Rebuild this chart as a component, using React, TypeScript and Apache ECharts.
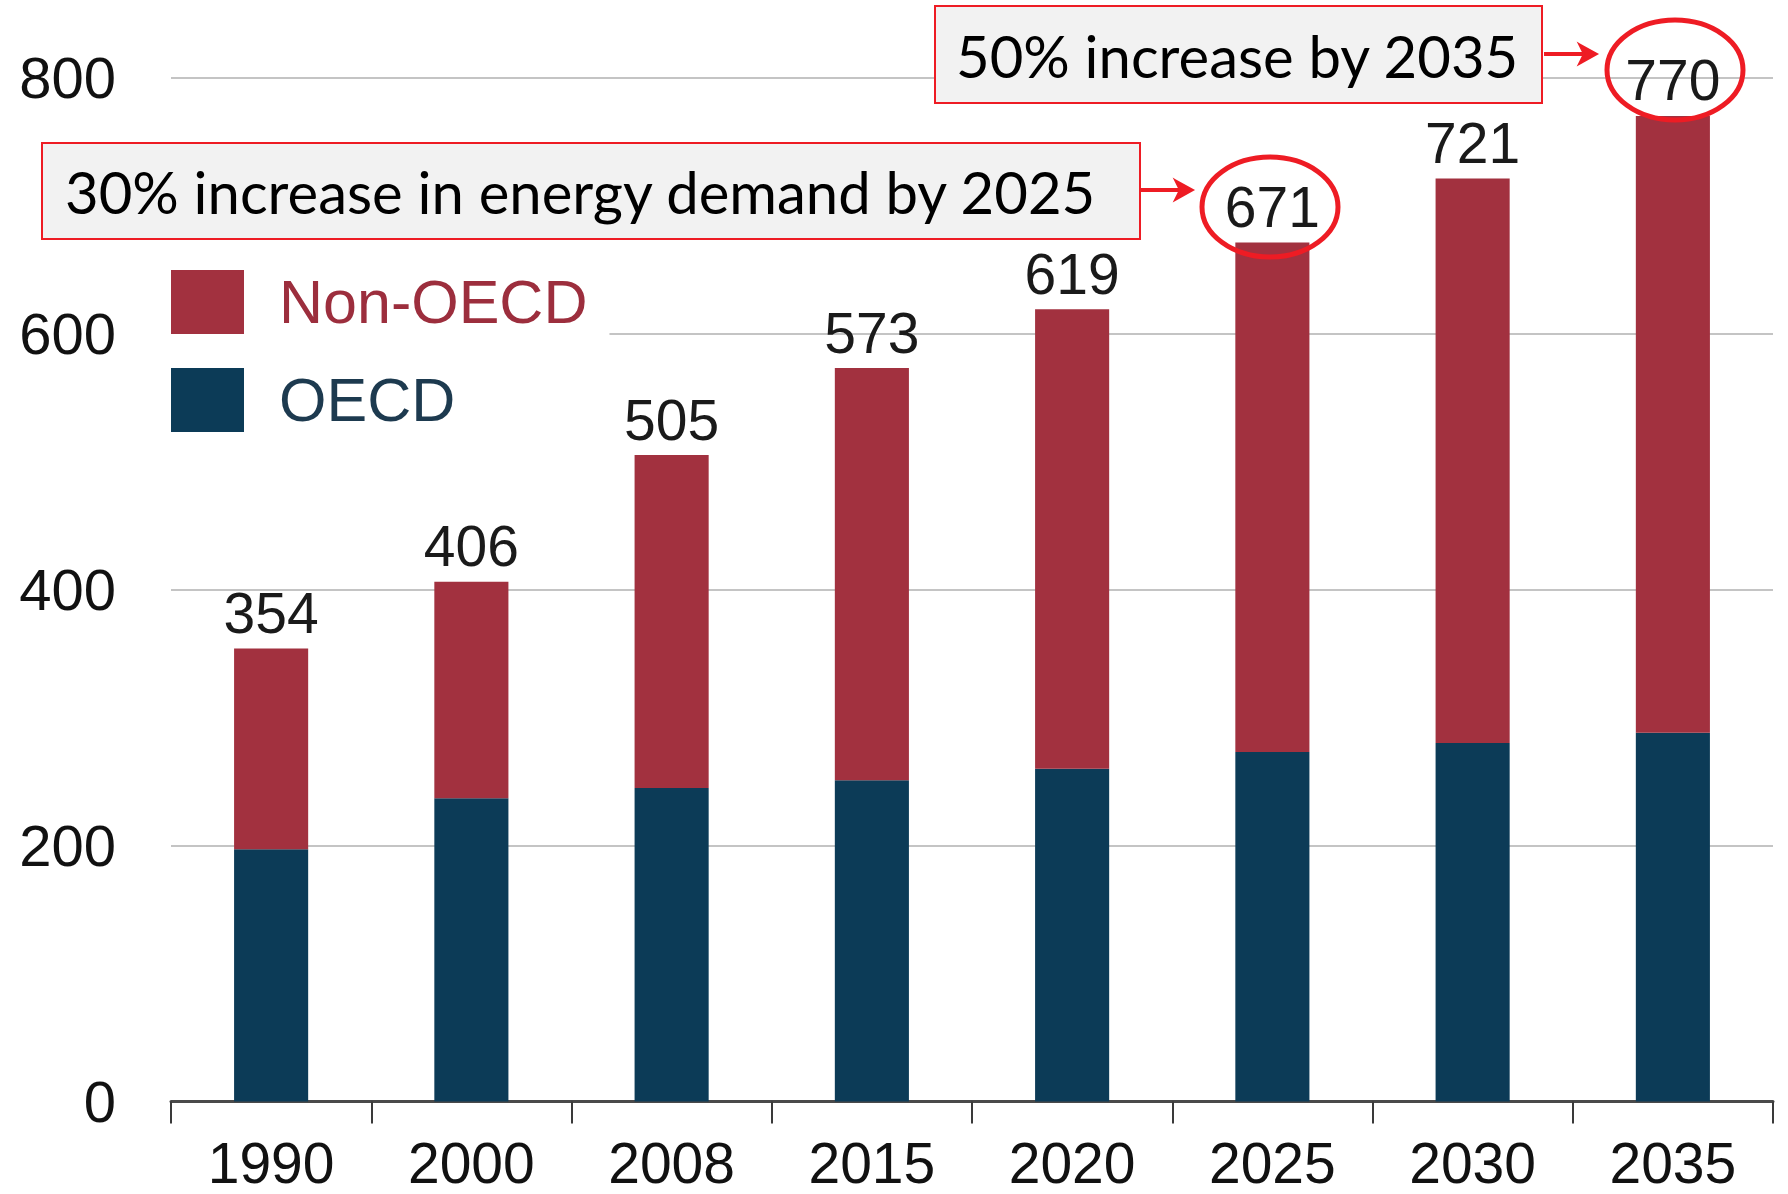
import React, { useEffect, useRef } from "react";
import * as echarts from "echarts";

const years = ["1990", "2000", "2008", "2015", "2020", "2025", "2030", "2035"];
const totals = [354, 406, 505, 573, 619, 671, 721, 770];
const oecd = [197, 237, 245, 251, 260, 273, 280, 288];
const nonOecd = [157, 169, 260, 322, 359, 398, 441, 482];
const yTicks = { min: 0, max: 800, interval: 200 };
const note2025 = "30% increase in energy demand by 2025";
const note2035 = "50% increase by 2035";

const RED = "#a2313f";
const NAVY = "#0c3b57";
const ANN = "#ee1c24";
const SANS = "'Liberation Sans', Arial, sans-serif";
const NOTE_FONT = "Lato, 'Open Sans', sans-serif";

export default function App() {
  const ref = useRef<HTMLDivElement>(null);
  useEffect(() => {
    if (!ref.current) return;
    const chart = echarts.init(ref.current, undefined, { renderer: "svg" });
    chart.setOption({
      animation: false,
      backgroundColor: "#ffffff",
      grid: { left: 171, right: 15, top: 77.5, bottom: 92.5, containLabel: false },
      legend: {
        orient: "vertical",
        left: 161,
        top: 262,
        padding: [8, 22, 10, 10],
        backgroundColor: "#ffffff",
        itemWidth: 73,
        itemHeight: 64,
        itemGap: 34,
        icon: "rect",
        selectedMode: false,
        textStyle: { fontFamily: SANS, fontSize: 61, padding: [0, 0, 0, 30] },
        data: [
          { name: "Non-OECD", textStyle: { color: "#9c2e3d" } },
          { name: "OECD", textStyle: { color: "#1d3a4f" } },
        ],
      },
      xAxis: {
        type: "category",
        data: years,
        axisLine: { lineStyle: { color: "#4a4a4a", width: 3 } },
        axisTick: { show: true, length: 22, lineStyle: { color: "#3a3a3a", width: 2 } },
        axisLabel: { fontFamily: SANS, fontSize: 57, color: "#111", margin: 33 },
      },
      yAxis: {
        type: "value",
        min: yTicks.min,
        max: yTicks.max,
        interval: yTicks.interval,
        axisLine: { show: false },
        axisTick: { show: false },
        axisLabel: { fontFamily: SANS, fontSize: 58, color: "#111", margin: 55 },
        splitLine: { lineStyle: { color: "#c4c4c4", width: 2 } },
      },
      series: [
        {
          name: "OECD",
          type: "bar",
          stack: "total",
          data: oecd,
          barWidth: "37%",
          itemStyle: { color: NAVY },
        },
        {
          name: "Non-OECD",
          type: "bar",
          stack: "total",
          data: nonOecd,
          barWidth: "37%",
          itemStyle: { color: RED },
          label: {
            show: true,
            position: "top",
            distance: 7,
            fontFamily: SANS,
            fontSize: 57,
            color: "#1a1a1a",
            formatter: (p: any) => String(totals[p.dataIndex]),
          },
        },
      ],
      graphic: [
        {
          type: "rect",
          z: 100,
          shape: { x: 42, y: 143, width: 1098, height: 96 },
          style: { fill: "#f2f2f2", stroke: ANN, lineWidth: 2 },
        },
        {
          type: "text",
          z: 101,
          x: 65,
          y: 191,
          style: {
            text: note2025,
            font: `58px ${NOTE_FONT}`,
            fill: "#000",
            verticalAlign: "middle",
            align: "left",
          },
        },
        {
          type: "rect",
          z: 100,
          shape: { x: 935, y: 6, width: 607, height: 97 },
          style: { fill: "#f2f2f2", stroke: ANN, lineWidth: 2 },
        },
        {
          type: "text",
          z: 101,
          x: 956,
          y: 55,
          style: {
            text: note2035,
            font: `58px ${NOTE_FONT}`,
            fill: "#000",
            verticalAlign: "middle",
            align: "left",
          },
        },
        {
          type: "line",
          z: 100,
          shape: { x1: 1141, y1: 190, x2: 1188, y2: 190 },
          style: { stroke: ANN, lineWidth: 4 },
        },
        {
          type: "polygon",
          z: 100,
          shape: { points: [[1175, 180], [1193, 190], [1175, 200], [1180, 190]] },
          style: { fill: ANN, stroke: ANN, lineWidth: 2 },
        },
        {
          type: "line",
          z: 100,
          shape: { x1: 1544, y1: 54, x2: 1592, y2: 54 },
          style: { stroke: ANN, lineWidth: 4 },
        },
        {
          type: "polygon",
          z: 100,
          shape: { points: [[1579, 44], [1597, 54], [1579, 64], [1584, 54]] },
          style: { fill: ANN, stroke: ANN, lineWidth: 2 },
        },
        {
          type: "ellipse",
          z: 100,
          shape: { cx: 1270, cy: 207, rx: 68, ry: 50 },
          style: { stroke: ANN, lineWidth: 5, fill: "none" },
        },
        {
          type: "ellipse",
          z: 100,
          shape: { cx: 1675, cy: 70, rx: 68, ry: 50 },
          style: { stroke: ANN, lineWidth: 5, fill: "none" },
        },
      ],
    });
    return () => chart.dispose();
  }, []);
  return (
    <div
      ref={ref}
      style={{ position: "absolute", left: 0, top: 0, width: 1788, height: 1194 }}
    />
  );
}
